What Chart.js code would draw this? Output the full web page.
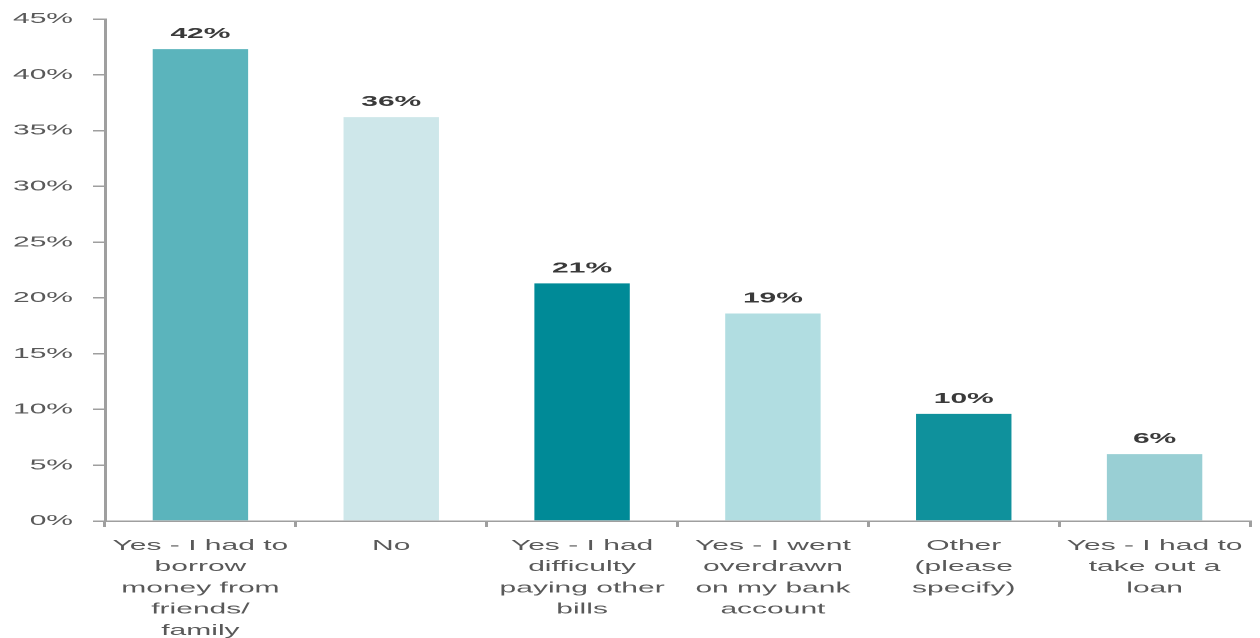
<!DOCTYPE html>
<html>
<head>
<meta charset="utf-8">
<script src="https://cdn.jsdelivr.net/npm/chart.js@4/dist/chart.umd.min.js"></script>
<style>
  html, body { margin: 0; padding: 0; background: #fff; overflow: hidden; }
  /* the source picture is stretched sideways, so draw at half width and stretch */
  #wrap { width: 630px; height: 638px; transform: scaleX(2); transform-origin: 0 0; }
</style>
</head>
<body>
<div id="wrap"><canvas id="myChart"></canvas></div>
<script>
const categories = [
    ['Yes - I had to', 'borrow', 'money from', 'friends/', 'family'],
    ['No'],
    ['Yes - I had', 'difficulty', 'paying other', 'bills'],
    ['Yes - I went', 'overdrawn', 'on my bank', 'account'],
    ['Other', '(please', 'specify)'],
    ['Yes - I had to', 'take out a', 'loan']
];
const values = [42.3, 36.2, 21.3, 18.6, 9.6, 6.0];
const barColors = ['#5bb4bc', '#cee7ea', '#008a97', '#b1dde1', '#0f919c', '#99cfd4'];
const yTicks = [0, 5, 10, 15, 20, 25, 30, 35, 40, 45];

const fontFamily = '"Liberation Sans", Arial, sans-serif';
const axisGray = '#9f9f9f';

const valueLabels = {
    id: 'valueLabels',
    afterDatasetsDraw(chart) {
        const ctx = chart.ctx;
        const meta = chart.getDatasetMeta(0);
        ctx.save();
        ctx.font = 'bold 15px ' + fontFamily;
        ctx.fillStyle = '#3a3a3a';
        ctx.textAlign = 'center';
        ctx.textBaseline = 'alphabetic';
        meta.data.forEach((bar, i) => {
            ctx.fillText(Math.round(values[i]) + '%', bar.x, bar.y - 11);
        });
        ctx.restore();
    }
};

const ctx = document.getElementById('myChart').getContext('2d');
new Chart(ctx, {
    type: 'bar',
    data: {
        labels: categories,
        datasets: [{
            data: values,
            backgroundColor: barColors,
            borderWidth: 0,
            barPercentage: 0.5,
            categoryPercentage: 1
        }]
    },
    options: {
        responsive: true,
        maintainAspectRatio: false,
        devicePixelRatio: 2,
        animation: false,
        layout: { padding: { top: 17, right: 5, bottom: 0, left: 0 } },
        plugins: {
            legend: { display: false },
            tooltip: { enabled: false }
        },
        scales: {
            x: {
                grid: {
                    offset: true,
                    drawOnChartArea: false,
                    tickLength: 6,
                    color: axisGray,
                    lineWidth: 1.5
                },
                border: { color: axisGray, width: 1.5 },
                ticks: {
                    color: '#595959',
                    padding: 8,
                    maxRotation: 0,
                    autoSkip: false,
                    font: { family: fontFamily, size: 15, lineHeight: 1.42 }
                },
                afterFit(scale) { scale.height = 117; }
            },
            y: {
                min: 0,
                max: 45,
                afterBuildTicks(scale) { scale.ticks = yTicks.map(v => ({ value: v })); },
                grid: {
                    drawOnChartArea: false,
                    tickLength: 6,
                    color: axisGray,
                    lineWidth: 1.5
                },
                border: { color: axisGray, width: 1.5 },
                ticks: {
                    color: '#595959',
                    padding: 10,
                    font: { family: fontFamily, size: 15 },
                    callback: v => v + '%'
                },
                afterFit(scale) { scale.width = 52.5; }
            }
        }
    },
    plugins: [valueLabels]
});
</script>
</body>
</html>
